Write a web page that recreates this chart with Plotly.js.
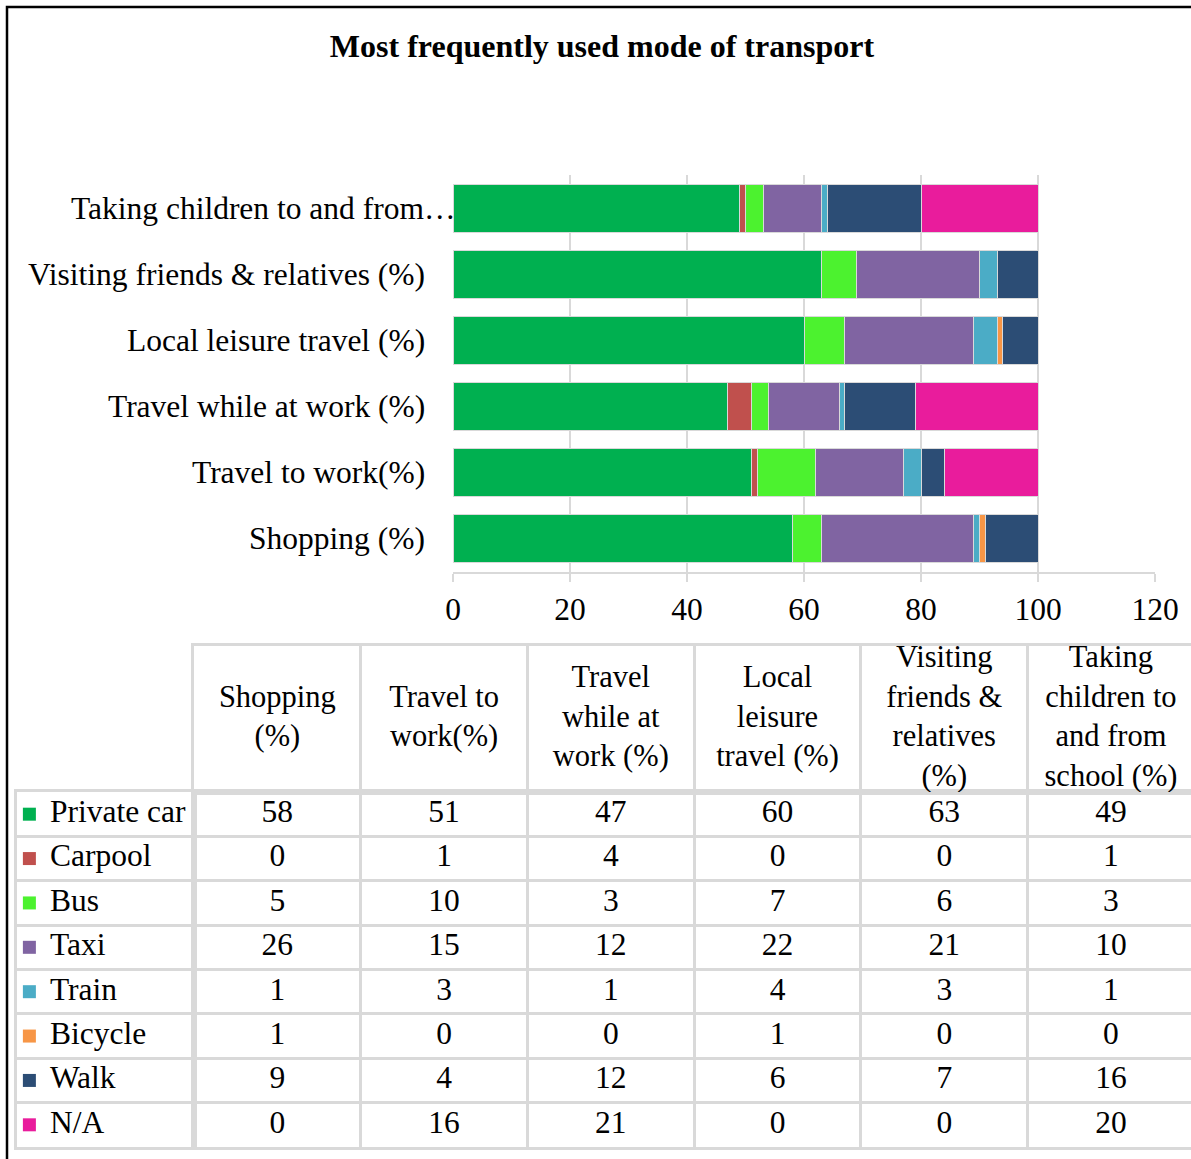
<!DOCTYPE html>
<html>
<head>
<meta charset="utf-8">
<script src="https://cdn.plot.ly/plotly-3.0.1.min.js"></script>
<style>html,body{margin:0;padding:0;background:#fff;}#chart{width:1191px;height:1159px;}</style>
</head>
<body>
<div id="chart"></div>
<script>
// ---- data ----
var categories = ['Shopping (%)', 'Travel to work(%)', 'Travel while at work (%)', 'Local leisure travel (%)', 'Visiting friends & relatives (%)', 'Taking children to and from school (%)'];
var axisLabels = ['Shopping (%)', 'Travel to work(%)', 'Travel while at work (%)', 'Local leisure travel (%)', 'Visiting friends & relatives (%)', 'Taking children to and from\u2026'];
var headerLabels = ['Shopping<br>(%)', 'Travel to<br>work(%)', 'Travel<br>while at<br>work (%)', 'Local<br>leisure<br>travel (%)', 'Visiting<br>friends &<br>relatives<br>(%)', 'Taking<br>children to<br>and from<br>school (%)'];
var modes = ['Private car', 'Carpool', 'Bus', 'Taxi', 'Train', 'Bicycle', 'Walk', 'N/A'];
var privateCar = [58, 51, 47, 60, 63, 49];
var carpool    = [0, 1, 4, 0, 0, 1];
var bus        = [5, 10, 3, 7, 6, 3];
var taxi       = [26, 15, 12, 22, 21, 10];
var train      = [1, 3, 1, 4, 3, 1];
var bicycle    = [1, 0, 0, 1, 0, 0];
var walk       = [9, 4, 12, 6, 7, 16];
var na         = [0, 16, 21, 0, 0, 20];
var series = [privateCar, carpool, bus, taxi, train, bicycle, walk, na];
var chartTitle = 'Most frequently used mode of transport';

// ---- styles ----
var colors = ['#00b050', '#c0504d', '#4cf22f', '#8064a2', '#4bacc6', '#f79646', '#2c4d75', '#e91c9c'];
var FONT = 'Liberation Serif, Times New Roman, serif';
var FS = 31.5;
var GRID = '#d9d9d9';
var W = 1191, H = 1159;
function px(x) { return x / W; }
function py(y) { return 1 - y / H; }

var traces = [];
// stacked bars
modes.forEach(function (m, i) {
  traces.push({
    type: 'bar', orientation: 'h', name: m,
    y: categories, x: series[i],
    xaxis: 'x', yaxis: 'y',
    marker: { color: colors[i], line: { color: GRID, width: 1 } },
    showlegend: false, hoverinfo: 'skip'
  });
});
// table values
modes.forEach(function (m, i) {
  traces.push({
    type: 'scatter', mode: 'text',
    x: categories, y: categories.map(function () { return m; }),
    text: series[i].map(String),
    textposition: 'middle center',
    textfont: { family: FONT, size: FS, color: '#000' },
    xaxis: 'x3', yaxis: 'y2', showlegend: false, hoverinfo: 'skip'
  });
});
// table header
traces.push({
  type: 'scatter', mode: 'text',
  x: categories, y: categories.map(function () { return 0.5; }),
  text: headerLabels, textposition: 'middle center',
  textfont: { family: FONT, size: 30.5, color: '#000' },
  xaxis: 'x3', yaxis: 'y3', showlegend: false, hoverinfo: 'skip'
});
// legend keys
traces.push({
  type: 'scatter', mode: 'markers',
  x: modes.map(function () { return 0.07; }), y: modes,
  marker: { symbol: 'square', size: 13, color: colors },
  xaxis: 'x2', yaxis: 'y2', showlegend: false, hoverinfo: 'skip'
});
traces.push({
  type: 'scatter', mode: 'text',
  x: modes.map(function () { return 0.186; }), y: modes,
  text: modes, textposition: 'middle right',
  textfont: { family: FONT, size: FS, color: '#000' },
  xaxis: 'x2', yaxis: 'y2', showlegend: false, hoverinfo: 'skip'
});

// category labels on the bar chart
var annotations = categories.map(function (c, i) {
  var lab = axisLabels[i];
  var trunc = lab.charAt(lab.length - 1) === '\u2026';
  return {
    xref: 'paper', yref: 'y', x: trunc ? px(457) : px(427), y: c,
    xanchor: 'right', yanchor: 'middle', text: lab, showarrow: false,
    font: { family: FONT, size: FS, color: '#000' }
  };
});

var tableAxis = {
  showgrid: false, zeroline: false, showticklabels: false, ticks: '',
  showline: true, mirror: 'all', linecolor: GRID, linewidth: 3, fixedrange: true
};

var layout = {
  width: W, height: H,
  margin: { l: 0, r: 0, t: 0, b: 0 },
  paper_bgcolor: '#fff', plot_bgcolor: '#fff',
  barmode: 'stack', bargap: 0.275,
  hovermode: false,
  title: {
    text: '<b>' + chartTitle + '</b>',
    font: { family: FONT, size: 32, color: '#000' },
    xref: 'paper', yref: 'paper', x: px(602), xanchor: 'center', y: py(46), yanchor: 'middle'
  },
  xaxis: {
    domain: [px(453), px(1155)], range: [0, 120], dtick: 20, tick0: 0,
    showgrid: true, gridcolor: GRID, gridwidth: 1.5, zeroline: false,
    showline: true, linecolor: GRID, linewidth: 2,
    ticks: 'outside', ticklen: 8, tickcolor: GRID, tickwidth: 1.5,
    ticklabelstandoff: 0,
    tickfont: { family: FONT, size: FS, color: '#000' }, anchor: 'y', fixedrange: true
  },
  yaxis: {
    domain: [py(572), py(175)], type: 'category', categoryarray: categories, categoryorder: 'array',
    range: [-0.5, 5.5], showticklabels: false, showgrid: false, zeroline: false,
    showline: false, ticks: '', anchor: 'x', fixedrange: true
  },
  xaxis2: Object.assign({}, tableAxis, { domain: [px(17), px(194)], range: [0, 1], anchor: 'y2' }),
  xaxis3: Object.assign({}, tableAxis, {
    domain: [px(194), 1], type: 'category', categoryarray: categories, categoryorder: 'array',
    range: [-0.5, 5.48], tickson: 'boundaries', showgrid: true, gridcolor: GRID, gridwidth: 3, anchor: 'y2'
  }),
  yaxis2: Object.assign({}, tableAxis, {
    domain: [py(1147), py(792)], type: 'category', categoryarray: modes, categoryorder: 'array',
    range: [7.5, -0.5], tickson: 'boundaries', showgrid: true, gridcolor: GRID, gridwidth: 3, anchor: 'x2'
  }),
  yaxis3: Object.assign({}, tableAxis, { domain: [py(792), py(646)], range: [0, 1], anchor: 'x3' }),
  annotations: annotations,
  shapes: [{
    type: 'rect', xref: 'paper', yref: 'paper', layer: 'above',
    x0: px(7), x1: 1.05, y0: -0.05, y1: py(7),
    line: { color: '#000', width: 2.5 }, fillcolor: 'rgba(0,0,0,0)'
  }]
};

Plotly.newPlot('chart', traces, layout, { staticPlot: true, displayModeBar: false });
</script>
</body>
</html>
